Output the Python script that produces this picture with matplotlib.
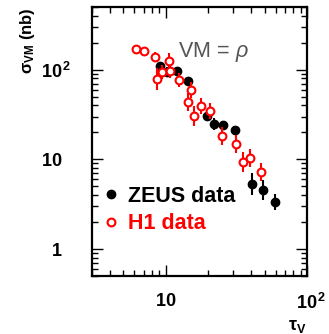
import numpy as np
import matplotlib
matplotlib.use("Agg")
import matplotlib.pyplot as plt
import matplotlib.transforms as mtransforms
from matplotlib.lines import Line2D
from matplotlib.ticker import LogLocator, FixedLocator, NullFormatter

plt.rcParams['font.family'] = ['Liberation Sans', 'DejaVu Sans']
plt.rcParams['mathtext.fontset'] = 'custom'
plt.rcParams['mathtext.rm'] = 'Liberation Sans'
plt.rcParams['mathtext.bf'] = 'Liberation Sans:bold'
plt.rcParams['mathtext.it'] = 'Liberation Sans:italic'

# ZEUS data (filled black)
zeus_tau = [9.14, 10.16, 12.03, 14.39, 19.44, 22.0, 25.5, 31.0, 41.0, 49.0, 59.0]
zeus_sig = [110.8, 95.0, 96.2, 75.4, 30.1, 24.7, 24.1, 21.4, 5.32, 4.51, 3.32]
zeus_err_dex = [0.045, 0.056, 0.045, 0.045, 0.056, 0.067, 0.045, 0.045, 0.123, 0.112, 0.089]

# H1 data (open red)
h1_tau = [6.13, 7.02, 8.36, 8.64, 9.37, 10.5, 10.67, 12.3, 14.97, 14.26, 15.87,
          17.63, 20.5, 25.1, 31.2, 35.0, 39.6, 47.0]
h1_sig = [169, 160, 138.7, 77.9, 93.8, 125.4, 97.5, 77.3, 59.8, 43.1, 30.1,
          38.9, 34.6, 18.0, 14.9, 9.45, 10.4, 7.19]
h1_err_dex = [0.045, 0.045, 0.056, 0.123, 0.078, 0.089, 0.078, 0.078, 0.089, 0.10, 0.112,
              0.089, 0.089, 0.10, 0.10, 0.112, 0.10, 0.10]

x_ticks = [10, 100]
x_ticklabels = [r'$\mathbf{10}$', r'$\mathbf{10^{\,2}}$']
y_ticks = [1, 10, 100]
y_ticklabels = [r'$\mathbf{1}$', r'$\mathbf{10}$', r'$\mathbf{10^{\,2}}$']


def asym_err(y, e):
    y = np.asarray(y, float)
    e = np.asarray(e, float)
    return [y - y * 10 ** (-e), y * 10 ** e - y]


fig = plt.figure(figsize=(3.29, 3.34), dpi=100)
ax = fig.add_axes([92 / 329, 1 - 276 / 334, 215 / 329, 269 / 334])
ax.set_xscale('log')
ax.set_yscale('log')
ax.set_xlim(3.0, 100)
ax.set_ylim(0.5, 500)

ax.errorbar(zeus_tau, zeus_sig, yerr=asym_err(zeus_sig, zeus_err_dex), fmt='o',
            color='black', ms=6, elinewidth=1.5, capsize=0, zorder=3)
ax.errorbar(h1_tau, h1_sig, yerr=asym_err(h1_sig, h1_err_dex), fmt='o',
            color='red', mfc='white', mec='red', ms=5.6, mew=1.5,
            elinewidth=1.5, capsize=0, zorder=4)

for s in ax.spines.values():
    s.set_linewidth(1.6)

ax.xaxis.set_major_locator(FixedLocator(x_ticks))
ax.yaxis.set_major_locator(FixedLocator(y_ticks))
ax.xaxis.set_minor_locator(LogLocator(base=10, subs=np.arange(2, 10)))
ax.yaxis.set_minor_locator(LogLocator(base=10, subs=np.arange(2, 10)))
ax.xaxis.set_minor_formatter(NullFormatter())
ax.yaxis.set_minor_formatter(NullFormatter())
ax.set_xticklabels(x_ticklabels)
ax.set_yticklabels(y_ticklabels)
ax.tick_params(which='both', direction='in', top=True, right=True, width=1.0)
ax.tick_params(which='major', length=8, labelsize=13)
ax.tick_params(which='minor', length=4.5)
ax.tick_params(axis='x', which='major', pad=12)
ax.tick_params(axis='y', which='major', pad=21.5)

ax.set_xlabel(r'$\mathbf{\tau_{V}}$', fontsize=13, loc='right', labelpad=4)
ax.set_ylabel(r'$\mathbf{\sigma_{VM}}$ (nb)', fontsize=12, fontweight='bold', loc='top', labelpad=3)

ax.text(0.40, 0.833, r'VM$\,=\,\rho$', transform=ax.transAxes, fontsize=15.5,
        color='#555555', ha='left', va='center')

handles = [Line2D([], [], ls='none', marker='o', color='black', ms=6),
           Line2D([], [], ls='none', marker='o', mfc='white', mec='red', mew=1.5, ms=5.6)]
leg = ax.legend(handles, ['ZEUS data', 'H1 data'], loc='center left',
                bbox_to_anchor=(-0.03, 0.245), frameon=False, handlelength=0.6,
                handletextpad=0.45, labelspacing=0.3,
                prop={'family': 'Liberation Sans', 'weight': 'bold', 'size': 15.5})
for t, c in zip(leg.get_texts(), ['black', 'red']):
    t.set_color(c)

# align the "10" part of the 10^2 labels with the other labels
fig.canvas.draw()
r = fig.canvas.get_renderer()
ylabs = ax.yaxis.get_majorticklabels()
w10 = ylabs[1].get_window_extent(r).width
w102 = ylabs[2].get_window_extent(r).width
dx = (w102 - w10) / fig.dpi
ylabs[2].set_transform(ylabs[2].get_transform() +
                       mtransforms.ScaledTranslation(dx, 0, fig.dpi_scale_trans))
xlabs = ax.xaxis.get_majorticklabels()
xw10 = xlabs[0].get_window_extent(r).width
xw102 = xlabs[1].get_window_extent(r).width
xlabs[1].set_transform(xlabs[1].get_transform() +
                       mtransforms.ScaledTranslation((xw102 - xw10) / 2 / fig.dpi, 0,
                                                     fig.dpi_scale_trans))

fig.savefig('out.png', dpi=100)
